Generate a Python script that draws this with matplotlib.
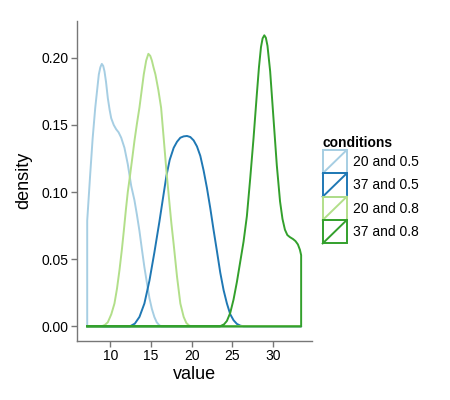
import matplotlib
matplotlib.use("Agg")
import matplotlib.pyplot as plt
from matplotlib.legend_handler import HandlerBase
from matplotlib.patches import Rectangle
from matplotlib.lines import Line2D

plt.rcParams['font.family'] = ['Liberation Sans', 'DejaVu Sans']

# data range shared by all curves
x_min, x_max = 7.13, 33.5

conditions = ["20 and 0.5", "37 and 0.5", "20 and 0.8", "37 and 0.8"]
colors = ["#a6cee3", "#1f78b4", "#b2df8a", "#33a02c"]

# density curves (x, density)
x_20_05 = [7.13, 7.5, 7.8, 8.12, 8.56, 8.75, 8.93, 9.1, 9.26, 9.45, 9.67, 9.9, 10.09, 10.4, 10.7,
           11.0, 11.32, 11.72, 12.13, 12.55, 12.95, 13.26, 13.57, 13.88, 14.18, 14.5, 14.8,
           15.1, 15.41, 15.7, 16.03, 16.3]
d_20_05 = [0.0787, 0.1134, 0.140, 0.1628, 0.1876, 0.193, 0.1955, 0.194, 0.190, 0.182, 0.170, 0.161,
           0.155, 0.150, 0.1468, 0.1445, 0.1405, 0.133, 0.1208, 0.1047, 0.094, 0.083, 0.071, 0.057,
           0.044, 0.032, 0.021, 0.013, 0.0069, 0.003, 0.0007, 0.0]

x_37_05 = [12.4, 13.0, 13.57, 14.18, 14.8, 15.41, 16.03, 16.56, 16.89, 17.3, 17.79, 18.2, 18.61,
           19.02, 19.43, 19.84, 20.25, 20.66, 21.07, 21.48, 21.89, 22.3, 22.7, 23.12, 23.53,
           23.94, 24.35, 24.76, 25.17, 25.58, 26.0, 26.4]
d_37_05 = [0.0, 0.002, 0.007, 0.017, 0.034, 0.055, 0.078, 0.099, 0.112, 0.124, 0.133, 0.1375,
           0.1405, 0.1415, 0.1418, 0.141, 0.1385, 0.134, 0.127, 0.116, 0.103, 0.088, 0.072, 0.056,
           0.040, 0.027, 0.017, 0.009, 0.0045, 0.0018, 0.0005, 0.0]

x_20_08 = [8.9, 9.3, 9.67, 10.1, 10.49, 10.8, 11.11, 11.4, 11.64, 11.9, 12.13, 12.4, 12.7, 12.95,
           13.26, 13.57, 13.85, 14.1, 14.4, 14.67, 14.9, 15.1, 15.3, 15.54, 15.9, 16.24, 16.56,
           16.89, 17.2, 17.5, 17.79, 18.2, 18.61, 19.02, 19.35, 19.7, 20.0]
d_20_08 = [0.0, 0.001, 0.003, 0.009, 0.017, 0.028, 0.042, 0.057, 0.071, 0.087, 0.100, 0.112,
           0.126, 0.138, 0.151, 0.163, 0.176, 0.1876, 0.198, 0.203, 0.2015, 0.198, 0.193, 0.1876,
           0.176, 0.1628, 0.140, 0.116, 0.096, 0.077, 0.061, 0.037, 0.017, 0.007, 0.0025,
           0.0005, 0.0]

x_37_08 = [23.5, 24.0, 24.35, 24.76, 25.17, 25.58, 25.99, 26.4, 26.81, 27.22, 27.63, 28.04, 28.3,
           28.55, 28.75, 28.96, 29.15, 29.35, 29.68, 30.09, 30.5, 30.9, 31.2, 31.5, 31.8, 32.1,
           32.5, 32.8, 33.1, 33.35, 33.5]
d_37_08 = [0.0, 0.0015, 0.004, 0.010, 0.020, 0.033, 0.048, 0.063, 0.082, 0.110, 0.140, 0.173,
           0.193, 0.208, 0.2145, 0.2168, 0.215, 0.209, 0.190, 0.155, 0.120, 0.093, 0.080, 0.072,
           0.068, 0.0665, 0.065, 0.0635, 0.061, 0.057, 0.053]

curves = [(x_20_05, d_20_05), (x_37_05, d_37_05), (x_20_08, d_20_08), (x_37_08, d_37_08)]


class KeyHandler(HandlerBase):
    def create_artists(self, legend, orig_handle, xdescent, ydescent, width, height, fontsize, trans):
        c = orig_handle.get_color()
        x0, y0 = -xdescent, -ydescent
        rect = Rectangle((x0, y0), width, height, fill=False, edgecolor=c, lw=1.4, transform=trans)
        diag = Line2D([x0, x0 + width], [y0, y0 + height], color=c, lw=1.4, transform=trans)
        return [rect, diag]


fig = plt.figure(figsize=(4.5, 4), dpi=100)
ax = fig.add_axes([0.170, 0.148, 0.523, 0.800])

handles = []
for (xs, ds), col, lab in zip(curves, colors, conditions):
    # outline of the density area over the full range, closed along zero
    px = [x_min] + xs + [x_max, x_min]
    py = [0.0] + ds + [0.0, 0.0]
    h, = ax.plot(px, py, color=col, lw=1.4, solid_joinstyle='round', label=lab)
    handles.append(h)

ax.set_xlim(5.81, 34.82)
ax.set_ylim(-0.0108, 0.2276)
ax.set_xticks([10, 15, 20, 25, 30])
ax.set_yticks([0.0, 0.05, 0.10, 0.15, 0.20])
ax.set_yticklabels(["0.00", "0.05", "0.10", "0.15", "0.20"])
ax.set_xlabel("value", fontsize=13, labelpad=2)
ax.set_ylabel("density", fontsize=13, labelpad=6)

for side in ["top", "right"]:
    ax.spines[side].set_visible(False)
for side in ["left", "bottom"]:
    ax.spines[side].set_color("#777777")
    ax.spines[side].set_linewidth(1.0)
ax.tick_params(axis='both', direction='out', length=4, width=1.0, color="#777777",
               labelsize=10, labelcolor="black", pad=2)

leg = fig.legend(handles=handles, labels=conditions, handler_map={Line2D: KeyHandler()},
                 loc='upper left', bbox_to_anchor=(322.7 / 450, 1 - 136 / 400),
                 frameon=False, title="conditions", fontsize=10,
                 title_fontproperties={'weight': 'bold', 'size': 10},
                 handlelength=1.73, handleheight=2.21, labelspacing=0.0,
                 handletextpad=0.45, borderpad=0.0, borderaxespad=0.0)
leg._legend_box.align = "left"

fig.savefig("out.png", dpi=100)
